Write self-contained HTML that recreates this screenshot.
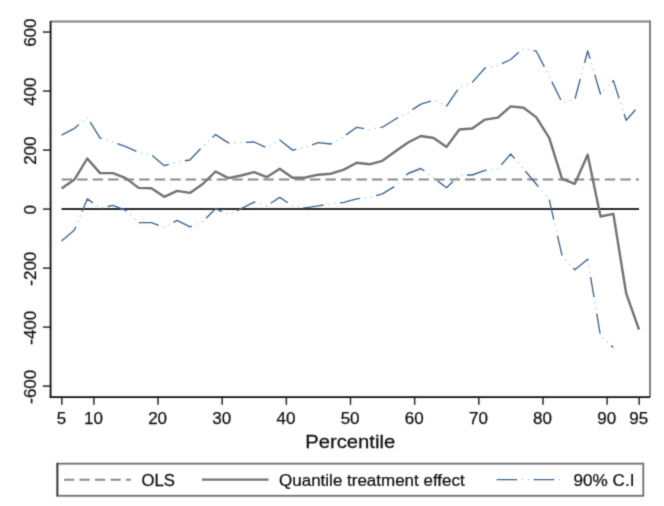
<!DOCTYPE html><html><head><meta charset="utf-8"><style>
html,body{margin:0;padding:0;background:#fff;}
svg{display:block;-webkit-font-smoothing:antialiased;}text{font-family:"Liberation Sans",sans-serif;fill:#111;stroke:#111;stroke-width:0.25px;}
</style></head><body>
<svg width="664" height="506" viewBox="0 0 664 506">
<defs><filter id="bl" x="-5%" y="-5%" width="110%" height="110%"><feConvolveMatrix order="3" kernelMatrix="1 5 1 5 25 5 1 5 1" preserveAlpha="false" edgeMode="none"/></filter></defs>
<rect width="664" height="506" fill="#fff"/>
<g filter="url(#bl)">
<line x1="50" y1="21.45" x2="651" y2="21.45" stroke="#808080" stroke-width="2"/>
<line x1="650.0" y1="20.5" x2="650.0" y2="397" stroke="#808080" stroke-width="2"/>
<line x1="42.9" y1="32.05" x2="51" y2="32.05" stroke="#2a2a2a" stroke-width="1.5"/>
<text transform="translate(35.6 32.65) rotate(-90)" text-anchor="middle" font-size="17">600</text>
<line x1="42.9" y1="91.07" x2="51" y2="91.07" stroke="#2a2a2a" stroke-width="1.5"/>
<text transform="translate(35.6 91.67) rotate(-90)" text-anchor="middle" font-size="17">400</text>
<line x1="42.9" y1="150.08" x2="51" y2="150.08" stroke="#2a2a2a" stroke-width="1.5"/>
<text transform="translate(35.6 150.68) rotate(-90)" text-anchor="middle" font-size="17">200</text>
<line x1="42.9" y1="209.10" x2="51" y2="209.10" stroke="#2a2a2a" stroke-width="1.5"/>
<text transform="translate(35.6 209.70) rotate(-90)" text-anchor="middle" font-size="17">0</text>
<line x1="42.9" y1="268.12" x2="51" y2="268.12" stroke="#2a2a2a" stroke-width="1.5"/>
<text transform="translate(35.6 268.72) rotate(-90)" text-anchor="middle" font-size="17">-200</text>
<line x1="42.9" y1="327.13" x2="51" y2="327.13" stroke="#2a2a2a" stroke-width="1.5"/>
<text transform="translate(35.6 327.73) rotate(-90)" text-anchor="middle" font-size="17">-400</text>
<line x1="42.9" y1="386.15" x2="51" y2="386.15" stroke="#2a2a2a" stroke-width="1.5"/>
<text transform="translate(35.6 386.75) rotate(-90)" text-anchor="middle" font-size="17">-600</text>
<line x1="61.80" y1="397" x2="61.80" y2="404.8" stroke="#2a2a2a" stroke-width="1.5"/>
<text x="61.40" y="423.6" text-anchor="middle" font-size="17">5</text>
<line x1="93.88" y1="397" x2="93.88" y2="404.8" stroke="#2a2a2a" stroke-width="1.5"/>
<text x="93.48" y="423.6" text-anchor="middle" font-size="17">10</text>
<line x1="158.03" y1="397" x2="158.03" y2="404.8" stroke="#2a2a2a" stroke-width="1.5"/>
<text x="157.63" y="423.6" text-anchor="middle" font-size="17">20</text>
<line x1="222.19" y1="397" x2="222.19" y2="404.8" stroke="#2a2a2a" stroke-width="1.5"/>
<text x="221.79" y="423.6" text-anchor="middle" font-size="17">30</text>
<line x1="286.35" y1="397" x2="286.35" y2="404.8" stroke="#2a2a2a" stroke-width="1.5"/>
<text x="285.95" y="423.6" text-anchor="middle" font-size="17">40</text>
<line x1="350.50" y1="397" x2="350.50" y2="404.8" stroke="#2a2a2a" stroke-width="1.5"/>
<text x="350.10" y="423.6" text-anchor="middle" font-size="17">50</text>
<line x1="414.66" y1="397" x2="414.66" y2="404.8" stroke="#2a2a2a" stroke-width="1.5"/>
<text x="414.26" y="423.6" text-anchor="middle" font-size="17">60</text>
<line x1="478.81" y1="397" x2="478.81" y2="404.8" stroke="#2a2a2a" stroke-width="1.5"/>
<text x="478.41" y="423.6" text-anchor="middle" font-size="17">70</text>
<line x1="542.97" y1="397" x2="542.97" y2="404.8" stroke="#2a2a2a" stroke-width="1.5"/>
<text x="542.57" y="423.6" text-anchor="middle" font-size="17">80</text>
<line x1="607.13" y1="397" x2="607.13" y2="404.8" stroke="#2a2a2a" stroke-width="1.5"/>
<text x="606.73" y="423.6" text-anchor="middle" font-size="17">90</text>
<line x1="639.20" y1="397" x2="639.20" y2="404.8" stroke="#2a2a2a" stroke-width="1.5"/>
<text x="638.80" y="423.6" text-anchor="middle" font-size="17">95</text>
<line x1="50.6" y1="21" x2="50.6" y2="398" stroke="#111" stroke-width="1.8"/>
<line x1="49.7" y1="397.2" x2="650.3" y2="397.2" stroke="#111" stroke-width="1.8"/>
<line x1="61.60" y1="209.0" x2="639.00" y2="209.0" stroke="#2a2a2a" stroke-width="1.8"/>
<line x1="61.60" y1="179.5" x2="639.00" y2="179.5" stroke="#8a8a8a" stroke-width="2.1" stroke-dasharray="10.4 5.12"/>
<polyline fill="none" stroke="#727272" stroke-width="2.4" stroke-linejoin="round" points="61.60,188.60 74.43,179.60 87.26,158.50 100.09,173.10 112.92,173.10 125.76,178.10 138.59,187.90 151.42,188.30 164.25,196.80 177.08,190.90 189.91,192.90 202.74,184.00 215.57,171.50 228.41,178.10 241.24,175.50 254.07,172.10 266.90,177.10 279.73,168.80 292.56,177.80 305.39,177.50 318.22,174.70 331.06,173.70 343.89,169.60 356.72,162.80 369.55,164.30 382.38,160.80 395.21,151.50 408.04,142.50 420.87,136.00 433.70,138.00 446.54,146.90 459.37,129.50 472.20,128.50 485.03,119.60 497.86,117.60 510.69,106.40 523.52,107.70 536.35,117.40 549.19,137.80 562.02,178.80 574.85,183.80 587.68,154.70 600.51,216.50 613.34,213.80 626.17,293.40 639.00,329.70"/>
<polyline fill="none" stroke="#3a6590" stroke-width="1.35" stroke-dasharray="20.5 16.5" stroke-linejoin="round" points="61.60,135.20 74.43,128.30 87.26,117.40 100.09,138.10 112.92,141.80 125.76,146.60 138.59,152.40 151.42,154.90 164.25,165.70 177.08,162.00 189.91,160.00 202.74,146.40 215.57,134.60 228.41,142.90 241.24,142.60 254.07,142.00 266.90,147.90 279.73,140.00 292.56,150.10 305.39,147.40 318.22,142.60 331.06,144.00 343.89,136.40 356.72,127.30 369.55,129.60 382.38,127.20 395.21,119.20 408.04,112.60 420.87,104.10 433.70,100.20 446.54,106.10 459.37,87.30 472.20,82.40 485.03,68.00 497.86,65.50 510.69,59.50 523.52,48.20 536.35,51.20 549.19,76.30 562.02,102.30 574.85,99.50 587.68,51.00 600.51,94.00 613.34,80.60 626.17,120.20 639.00,105.80"/>
<polyline fill="none" stroke="#9db3c8" stroke-width="1.3" stroke-dasharray="1 5.1 1 29.9" stroke-dashoffset="11.6" points="61.60,135.20 74.43,128.30 87.26,117.40 100.09,138.10 112.92,141.80 125.76,146.60 138.59,152.40 151.42,154.90 164.25,165.70 177.08,162.00 189.91,160.00 202.74,146.40 215.57,134.60 228.41,142.90 241.24,142.60 254.07,142.00 266.90,147.90 279.73,140.00 292.56,150.10 305.39,147.40 318.22,142.60 331.06,144.00 343.89,136.40 356.72,127.30 369.55,129.60 382.38,127.20 395.21,119.20 408.04,112.60 420.87,104.10 433.70,100.20 446.54,106.10 459.37,87.30 472.20,82.40 485.03,68.00 497.86,65.50 510.69,59.50 523.52,48.20 536.35,51.20 549.19,76.30 562.02,102.30 574.85,99.50 587.68,51.00 600.51,94.00 613.34,80.60 626.17,120.20 639.00,105.80"/>
<polyline fill="none" stroke="#3a6590" stroke-width="1.35" stroke-dasharray="20.5 16.5" stroke-linejoin="round" points="61.60,241.00 74.43,230.10 87.26,198.90 100.09,208.00 112.92,205.40 125.76,210.40 138.59,222.60 151.42,222.60 164.25,227.50 177.08,220.40 189.91,226.80 202.74,221.50 215.57,208.70 228.41,214.60 241.24,208.70 254.07,202.10 266.90,205.70 279.73,197.40 292.56,205.80 305.39,207.90 318.22,205.90 331.06,203.80 343.89,202.40 356.72,198.80 369.55,197.40 382.38,193.90 395.21,186.00 408.04,173.50 420.87,168.50 433.70,177.90 446.54,187.70 459.37,175.00 472.20,175.00 485.03,170.40 497.86,168.80 510.69,154.00 523.52,169.00 536.35,184.20 549.19,199.50 562.02,255.40 574.85,269.70 587.68,259.30 600.51,336.10 613.34,347.50"/>
<polyline fill="none" stroke="#9db3c8" stroke-width="1.3" stroke-dasharray="1 5.1 1 29.9" stroke-dashoffset="11.6" points="61.60,241.00 74.43,230.10 87.26,198.90 100.09,208.00 112.92,205.40 125.76,210.40 138.59,222.60 151.42,222.60 164.25,227.50 177.08,220.40 189.91,226.80 202.74,221.50 215.57,208.70 228.41,214.60 241.24,208.70 254.07,202.10 266.90,205.70 279.73,197.40 292.56,205.80 305.39,207.90 318.22,205.90 331.06,203.80 343.89,202.40 356.72,198.80 369.55,197.40 382.38,193.90 395.21,186.00 408.04,173.50 420.87,168.50 433.70,177.90 446.54,187.70 459.37,175.00 472.20,175.00 485.03,170.40 497.86,168.80 510.69,154.00 523.52,169.00 536.35,184.20 549.19,199.50 562.02,255.40 574.85,269.70 587.68,259.30 600.51,336.10 613.34,347.50"/>
<text transform="translate(305.20 447.80) scale(1.0945 1)" text-anchor="start" font-size="18.5">Percentile</text>
<rect x="57.4" y="463.65" width="585.9" height="32.15" fill="none" stroke="#6e6e6e" stroke-width="1.8"/>
<line x1="57.4" y1="462.9" x2="57.4" y2="496.3" stroke="#333" stroke-width="1.6"/>
<line x1="64" y1="479.7" x2="131" y2="479.7" stroke="#8a8a8a" stroke-width="2.1" stroke-dasharray="10.2 5.3"/>
<text transform="translate(141.50 485.60) scale(1.0065 1)" text-anchor="start" font-size="16.6">OLS</text>
<line x1="202" y1="479.65" x2="268.5" y2="479.65" stroke="#727272" stroke-width="2.4"/>
<text transform="translate(279.10 485.60) scale(1.0232 1)" text-anchor="start" font-size="16.6">Quantile treatment effect</text>
<line x1="496.6" y1="479.6" x2="560" y2="479.6" stroke="#3a6590" stroke-width="1.35" stroke-dasharray="20.5 16.5"/>
<line x1="496.6" y1="479.6" x2="560" y2="479.6" stroke="#9db3c8" stroke-width="1.3" stroke-dasharray="1 5.1 1 29.9" stroke-dashoffset="11.6"/>
<text transform="translate(573.50 485.60) scale(1.0327 1)" text-anchor="start" font-size="16.6">90% C.I</text>
</g>
</svg></body></html>
